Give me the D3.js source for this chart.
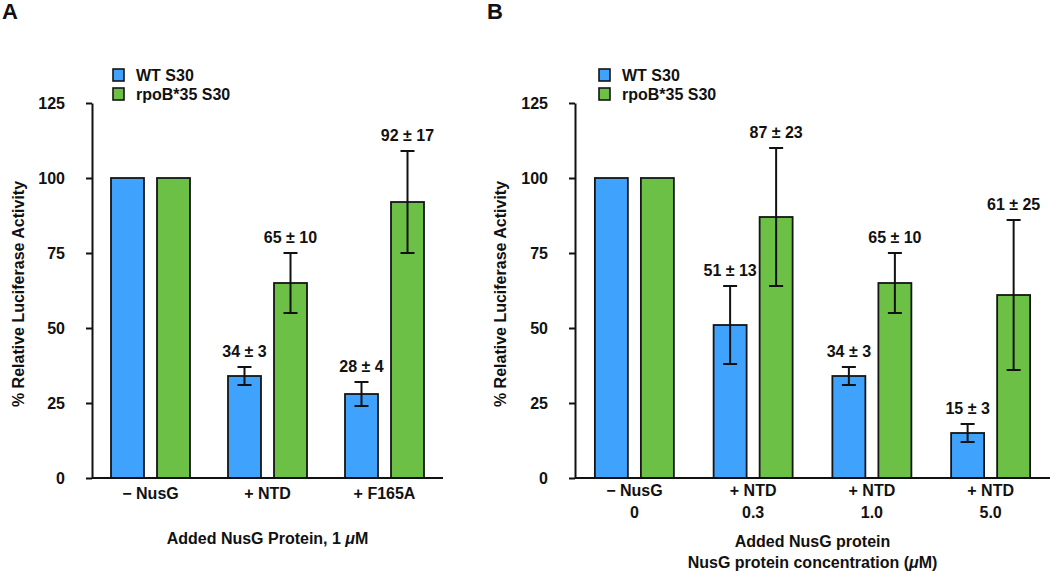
<!DOCTYPE html>
<html>
<head>
<meta charset="utf-8">
<script src="https://cdn.jsdelivr.net/npm/d3@7.9.0/dist/d3.min.js"></script>
<style>
  body { margin: 0; background: #fff; }
  svg text { font-family: "Liberation Sans", Arial, Helvetica, sans-serif; font-weight: bold; fill: #111; }
</style>
</head>
<body>
<svg id="chart" width="1050" height="571"></svg>
<script>
// Panel A data
const catsA = ['− NusG', '+ NTD', '+ F165A'];
const wtA = [100, 34, 28];
const wtErrA = [0, 3, 4];
const mutA = [100, 65, 92];
const mutErrA = [0, 10, 17];

// Panel B data
const catsB = ['− NusG', '+ NTD', '+ NTD', '+ NTD'];
const concB = ['0', '0.3', '1.0', '5.0'];
const wtB = [100, 51, 34, 15];
const wtErrB = [0, 13, 3, 3];
const mutB = [100, 87, 65, 61];
const mutErrB = [0, 23, 10, 25];

const series = ['WT S30', 'rpoB*35 S30'];
const yTicks = [0, 25, 50, 75, 100, 125];
const colors = { 'WT S30': '#3fa2fc', 'rpoB*35 S30': '#6cc045' };

const svg = d3.select('#chart');
const y = d3.scaleLinear().domain([0, 125]).range([478, 103]);

function drawPanel(opts) {
    const g = svg.append('g');
    const x0 = d3.scaleBand().domain(d3.range(opts.cats.length)).range([opts.left, opts.right]);
    const x1 = d3.scaleBand().domain(series).range([0, 79]).paddingInner(0.283);
    const off = (x0.bandwidth() - 79) / 2;

    // panel letter
    g.append('text').attr('x', opts.letterX).attr('y', 19)
        .style('font-size', '22px').text(opts.letter);

    // y axis
    const yAxis = d3.axisLeft(y).tickValues(yTicks).tickSize(6).tickSizeOuter(0);
    const ya = g.append('g').attr('transform', `translate(${opts.left},0)`).call(yAxis);
    ya.select('.domain').attr('stroke', '#111').attr('stroke-width', 2);
    ya.selectAll('.tick line').attr('stroke', '#111').attr('stroke-width', 2);
    ya.selectAll('.tick text').attr('x', -27).attr('dy', '0.35em')
        .style('font-size', '16px').style('font-family', null);

    // y title
    g.append('text')
        .attr('transform', `translate(${opts.yTitleX},294) rotate(-90)`)
        .attr('text-anchor', 'middle').style('font-size', '16px')
        .text('% Relative Luciferase Activity');

    // bars
    const rows = [];
    opts.cats.forEach((c, i) => {
        rows.push({ i, s: series[0], v: opts.wt[i], e: opts.wtErr[i] });
        rows.push({ i, s: series[1], v: opts.mut[i], e: opts.mutErr[i] });
    });
    g.selectAll('rect.bar').data(rows).join('rect')
        .attr('class', 'bar')
        .attr('x', d => x0(d.i) + off + x1(d.s))
        .attr('y', d => y(d.v))
        .attr('width', x1.bandwidth())
        .attr('height', d => y(0) - y(d.v))
        .attr('fill', d => colors[d.s])
        .attr('stroke', '#151515').attr('stroke-width', 1.8);

    // error bars + labels
    const errs = rows.filter(d => d.e > 0);
    errs.forEach(d => {
        const cx = x0(d.i) + off + x1(d.s) + x1.bandwidth() / 2;
        const top = y(d.v + d.e), bot = y(d.v - d.e);
        g.append('line').attr('x1', cx).attr('x2', cx).attr('y1', top).attr('y2', bot)
            .attr('stroke', '#111').attr('stroke-width', 2);
        [top, bot].forEach(yy => g.append('line')
            .attr('x1', cx - 7).attr('x2', cx + 7).attr('y1', yy).attr('y2', yy)
            .attr('stroke', '#111').attr('stroke-width', 2));
        g.append('text').attr('x', cx).attr('y', top - 10)
            .attr('text-anchor', 'middle').style('font-size', '16px')
            .text(`${d.v} ± ${d.e}`);
    });

    // x axis
    g.append('line').attr('x1', opts.left).attr('x2', opts.right)
        .attr('y1', y(0)).attr('y2', y(0))
        .attr('stroke', '#111').attr('stroke-width', 2);
    opts.cats.forEach((c, i) => {
        const cx = x0(i) + x0.bandwidth() / 2;
        g.append('text').attr('x', cx).attr('y', opts.catY)
            .attr('text-anchor', 'middle').style('font-size', '16px').text(c);
        if (opts.conc) {
            g.append('text').attr('x', cx).attr('y', opts.catY + 22)
                .attr('text-anchor', 'middle').style('font-size', '16px').text(opts.conc[i]);
        }
    });

    // x titles, centred under the axis
    const xTitleX = (opts.left + opts.right) / 2;
    opts.xTitles.forEach((t, k) => {
        const tx = g.append('text').attr('x', xTitleX).attr('y', opts.xTitleY + k * 21)
            .attr('text-anchor', 'middle').style('font-size', '16px');
        t.forEach(part => {
            tx.append('tspan').style('font-style', part.italic ? 'italic' : null).text(part.t);
        });
    });

    // legend
    series.forEach((s, k) => {
        const ly = 69 + k * 19;
        g.append('rect').attr('x', opts.legX).attr('y', ly).attr('width', 11).attr('height', 12)
            .attr('fill', colors[s]).attr('stroke', '#151515').attr('stroke-width', 1.6);
        g.append('text').attr('x', opts.legX + 23).attr('y', ly + 6).attr('dy', '0.35em')
            .style('font-size', '16px').text(s);
    });
}

drawPanel({
    letter: 'A', letterX: 2, left: 92, right: 443, yTitleX: 24,
    cats: catsA, wt: wtA, wtErr: wtErrA, mut: mutA, mutErr: mutErrA,
    catY: 499, xTitleY: 544, legX: 113,
    xTitles: [[{ t: 'Added NusG Protein, 1 ' }, { t: 'μ', italic: true }, { t: 'M' }]]
});

drawPanel({
    letter: 'B', letterX: 487, left: 575, right: 1050, yTitleX: 506,
    cats: catsB, conc: concB, wt: wtB, wtErr: wtErrB, mut: mutB, mutErr: mutErrB,
    catY: 496, xTitleY: 547, legX: 599,
    xTitles: [[{ t: 'Added NusG protein' }],
              [{ t: 'NusG protein concentration (' }, { t: 'μ', italic: true }, { t: 'M)' }]]
});
</script>
</body>
</html>
